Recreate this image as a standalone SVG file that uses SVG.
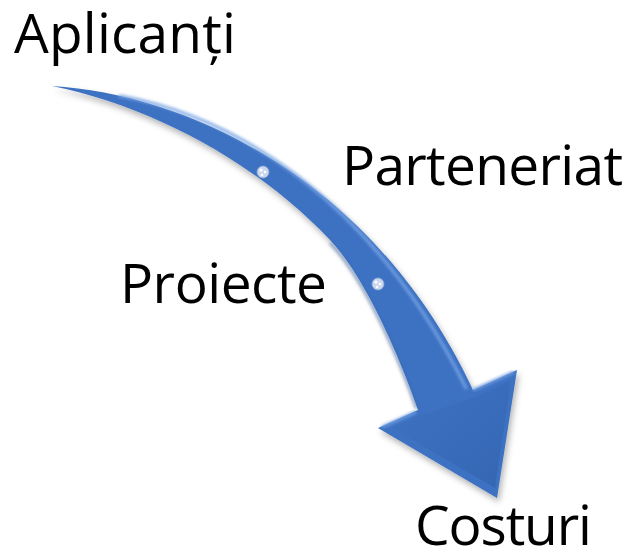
<svg xmlns="http://www.w3.org/2000/svg" width="633" height="552" viewBox="0 0 633 552">
  <defs>
    <style>
      .lbl { font-family: "Open Sans", "Liberation Sans", sans-serif; font-size: 55px; fill: #000000; }
      .dot { fill: #c9d7ef; stroke: #8fa9d6; stroke-width: 0.8; }
      .dotHi { fill: #ffffff; }
    </style>
    <filter id="shadow" x="-10%" y="-10%" width="130%" height="130%">
      <feDropShadow dx="2" dy="4" stdDeviation="3" flood-color="#000000" flood-opacity="0.3"/>
    </filter>
    <filter id="soft" x="-10%" y="-10%" width="120%" height="120%">
      <feGaussianBlur stdDeviation="1.5"/>
    </filter>
    <linearGradient id="headGrad" x1="0" y1="0" x2="1" y2="1">
      <stop offset="0" stop-color="#3f74c4"/>
      <stop offset="1" stop-color="#3264b0"/>
    </linearGradient>
  </defs>

  <g id="connectors">
    <g id="arrow" filter="url(#shadow)">
      <path fill="#3d71c2" d="M 52 86 C 200 95 380 190 473 390 L 517 370 L 497 498 L 378 428 L 418 410 C 408 380 371 283 330 240 C 258 164 155 107 52 86 Z"/>
    </g>
    <!-- bevel highlights -->
    <path d="M 120 96 C 230 115 370 195 466 388" fill="none" stroke="#78a6e6" stroke-width="3" stroke-linecap="round" filter="url(#soft)" opacity="0.9"/>
    <path d="M 473 390 L 514 372" fill="none" stroke="#6f9de0" stroke-width="3" filter="url(#soft)"/>
    <path d="M 382 427 L 416 412" fill="none" stroke="#6f9de0" stroke-width="3" filter="url(#soft)"/>
    <path fill="url(#headGrad)" d="M 478 396 L 511 380 L 495 488 L 392 428 L 422 415 Z" opacity="0.85"/>
    <path d="M 416 408 C 406 378 370 285 330 243" fill="none" stroke="#2e5ea6" stroke-width="2" filter="url(#soft)" opacity="0.6"/>
    <!-- small bubbles on the arrow -->
    <g id="bubble1">
      <circle class="dot" cx="263" cy="172" r="6"/>
      <circle class="dotHi" cx="261" cy="170" r="1.6"/>
      <circle class="dotHi" cx="265" cy="172" r="1.3"/>
      <circle class="dotHi" cx="262" cy="175" r="1.2"/>
    </g>
    <g id="bubble2">
      <circle class="dot" cx="378" cy="284" r="6"/>
      <circle class="dotHi" cx="376" cy="282" r="1.6"/>
      <circle class="dotHi" cx="380" cy="284" r="1.3"/>
      <circle class="dotHi" cx="377" cy="287" r="1.2"/>
    </g>
  </g>

  <g id="node-aplicanti">
    <text class="lbl" x="14" y="53" textLength="222">Aplicanți</text>
  </g>
  <g id="node-parteneriat">
    <text class="lbl" x="342" y="185" textLength="281">Parteneriat</text>
  </g>
  <g id="node-proiecte">
    <text class="lbl" x="120" y="303" textLength="207">Proiecte</text>
  </g>
  <g id="node-costuri">
    <text class="lbl" x="415" y="545" textLength="177">Costuri</text>
  </g>
</svg>
